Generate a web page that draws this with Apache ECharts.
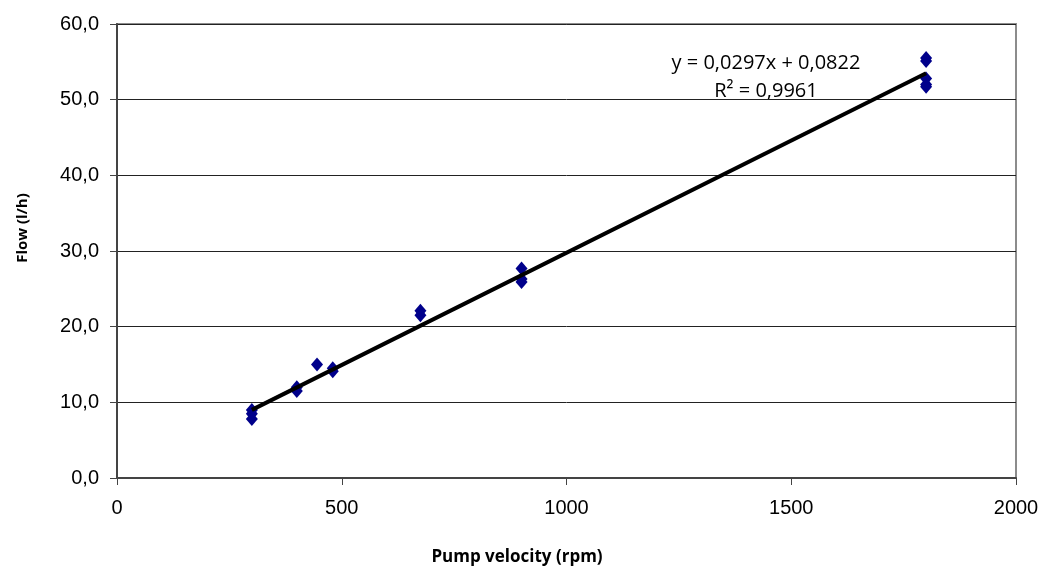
<!DOCTYPE html>
<html>
<head>
<meta charset="utf-8">
<script src="https://cdn.jsdelivr.net/npm/echarts@6/dist/echarts.min.js"></script>
<style>
  html, body { margin: 0; padding: 0; background: #fff; }
  #flow_chart { width: 1042px; height: 567px; }
</style>
</head>
<body>
<div id="flow_chart"></div>
<script>
// measured points (pump velocity rpm, flow l/h)
const velocity = [300, 300, 300, 400, 400, 445, 480, 480, 675, 675, 900, 900, 900, 1800, 1800, 1800, 1800, 1800];
const flow = [9.0, 8.5, 7.8, 12.0, 11.5, 15.0, 14.5, 14.1, 22.1, 21.5, 27.7, 26.3, 25.9, 55.5, 55.1, 52.8, 52.0, 51.7];

// linear trend line endpoints
const trendX = [300, 1800];
const trendY = [9.0, 53.5];

const xTicks = [0, 500, 1000, 1500, 2000];
const yTicks = [0, 10, 20, 30, 40, 50, 60];

const eqLine = 'y = 0,0297x + 0,0822';
const r2Line = 'R² = 0,9961';

let chart = echarts.init(document.getElementById('flow_chart'));

let points = velocity.map((v, i) => [v, flow[i]]);
let trend = trendX.map((v, i) => [v, trendY[i]]);

chart.setOption({
  animation: false,
  grid: {
    left: 117, right: 26, top: 24, bottom: 89,
    outerBoundsMode: 'none',
    containLabel: false,
    show: true,
    borderColor: '#8c8c8c',
    borderWidth: 2
  },
  xAxis: {
    type: 'value',
    min: xTicks[0],
    max: xTicks[xTicks.length - 1],
    interval: 500,
    axisLine: { show: true, lineStyle: { color: '#444', width: 2 } },
    axisTick: { show: true, length: 7, lineStyle: { color: '#444' } },
    axisLabel: {
      fontFamily: 'Liberation Sans', fontSize: 20, color: '#000', margin: 20,
      formatter: (v) => String(v)
    },
    splitLine: { show: false }
  },
  yAxis: {
    type: 'value',
    min: yTicks[0],
    max: yTicks[yTicks.length - 1],
    interval: 10,
    axisLine: { show: true, lineStyle: { color: '#444', width: 2 } },
    axisTick: { show: true, length: 7, lineStyle: { color: '#444' } },
    axisLabel: {
      fontFamily: 'Liberation Sans', fontSize: 20, color: '#000', margin: 18,
      formatter: (v) => v.toFixed(1).replace('.', ',')
    },
    splitLine: { show: true, lineStyle: { color: '#222', width: 1 } }
  },
  series: [
    {
      name: 'trend',
      type: 'line',
      data: trend,
      symbol: 'none',
      lineStyle: { color: '#000', width: 4 },
      z: 3
    },
    {
      name: 'flow',
      type: 'scatter',
      data: points,
      symbol: 'diamond',
      symbolSize: [12, 14],
      itemStyle: { color: '#00008b', opacity: 1 },
      z: 2
    }
  ],
  graphic: [
    {
      type: 'text',
      x: 766, y: 63,
      style: { text: eqLine, font: '20px "Open Sans"', fill: '#000', align: 'center', verticalAlign: 'middle' }
    },
    {
      type: 'text',
      x: 766, y: 91,
      style: { text: r2Line, font: '20px "Open Sans"', fill: '#000', align: 'center', verticalAlign: 'middle' }
    },
    {
      type: 'text',
      x: 517, y: 557,
      style: { text: 'Pump velocity (rpm)', font: 'bold 17px "Open Sans"', fill: '#000', align: 'center', verticalAlign: 'middle' }
    },
    {
      type: 'text',
      x: 23, y: 228,
      rotation: Math.PI / 2,
      style: { text: 'Flow (l/h)', font: 'bold 15px "Open Sans"', fill: '#000', align: 'center', verticalAlign: 'middle' }
    }
  ]
});
</script>
</body>
</html>
